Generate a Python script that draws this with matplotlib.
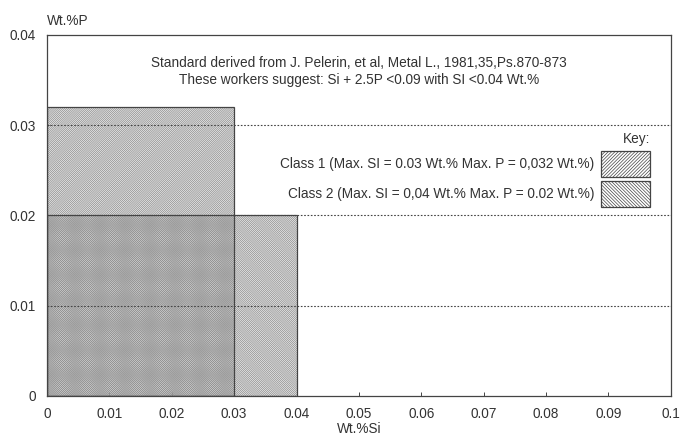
import matplotlib
matplotlib.use("Agg")

import matplotlib.pyplot as plt
import matplotlib.patches as mpatches

plt.rcParams["font.family"] = ["Liberation Sans", "DejaVu Sans"]
plt.rcParams["hatch.linewidth"] = 0.5

# Data: composition limits for the two classes
class_names = ["Class 1", "Class 2"]
max_si = [0.03, 0.04]
max_p = [0.032, 0.02]
hatches = ["/" * 16, "\\" * 16]
key_hatches = ["/" * 10, "\\" * 10]
labels = [
    "Class 1 (Max. SI = 0.03 Wt.% Max. P = 0,032 Wt.%)",
    "Class 2 (Max. SI = 0,04 Wt.% Max. P = 0.02 Wt.%)",
]
x_ticks = [0, 0.01, 0.02, 0.03, 0.04, 0.05, 0.06, 0.07, 0.08, 0.09, 0.1]
x_ticklabels = ["0", "0.01", "0.02", "0.03", "0.04", "0.05", "0.06", "0.07", "0.08", "0.09", "0.1"]
y_ticks = [0, 0.01, 0.02, 0.03, 0.04]
y_ticklabels = ["0", "0.01", "0.02", "0.03", "0.04"]
grid_levels = [0.01, 0.02, 0.03]

C_TEXT = "#333333"
C_LINE = "#444444"
C_HATCH = "#8a8a8a"
FS = 9.8

fig = plt.figure(figsize=(6.81, 4.36), dpi=100)
ax = fig.add_axes([0.069, 0.092, 0.916, 0.828])
ax.set_xlim(0, 0.1)
ax.set_ylim(0, 0.04)

for si, p, h in zip(max_si, max_p, hatches):
    # hatched fill
    ax.add_patch(mpatches.Rectangle((0, 0), si, p, facecolor=(0.8, 0.8, 0.8, 0.35),
                                    edgecolor=C_HATCH, hatch=h, linewidth=0, zorder=2))
    # outline
    ax.add_patch(mpatches.Rectangle((0, 0), si, p, facecolor="none",
                                    edgecolor=C_LINE, linewidth=0.9, zorder=2.5))

for lev in grid_levels:
    ax.axhline(lev, color=C_LINE, linestyle=(0, (1.5, 1.5)), linewidth=0.8, zorder=3)

ax.text(0.05, 0.0369, "Standard derived from J. Pelerin, et al, Metal L., 1981,35,Ps.870-873",
        ha="center", va="center", fontsize=FS, color=C_TEXT)
ax.text(0.05, 0.0350, "These workers suggest: Si + 2.5P <0.09 with SI <0.04 Wt.%",
        ha="center", va="center", fontsize=FS, color=C_TEXT)

handles = [mpatches.Patch(facecolor="white", edgecolor=C_LINE, hatch=h, linewidth=0.9)
           for h in key_hatches]
leg = ax.legend(handles, labels, title="Key:", loc="upper right",
                bbox_to_anchor=(0.987, 0.765), frameon=False, markerfirst=False,
                handlelength=3.6, handleheight=2.55, labelspacing=0.35,
                handletextpad=0.5, fontsize=FS, title_fontsize=FS, alignment="right")
for t in leg.get_texts():
    t.set_color(C_TEXT)
leg.get_title().set_color(C_TEXT)

ax.set_xticks(x_ticks)
ax.set_xticklabels(x_ticklabels)
ax.set_yticks(y_ticks)
ax.set_yticklabels(y_ticklabels)
ax.tick_params(direction="in", length=3, width=0.7, colors=C_LINE, labelcolor=C_TEXT,
               labelsize=FS)
ax.tick_params(axis="x", pad=8)
ax.tick_params(axis="y", pad=8)
for s in ax.spines.values():
    s.set_color(C_LINE)
    s.set_linewidth(0.9)

ax.text(0, 1.02, "Wt.%P", transform=ax.transAxes, ha="left", va="bottom",
        fontsize=FS, color=C_TEXT)
ax.set_xlabel("Wt.%Si", fontsize=FS, color=C_TEXT, labelpad=0.5)

fig.savefig("out.png", dpi=100, facecolor="white")
